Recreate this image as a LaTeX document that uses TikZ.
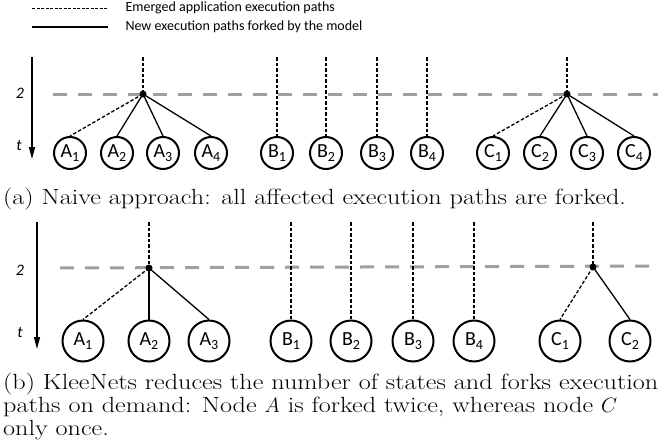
\documentclass[tikz,border=0pt]{standalone}
\usepackage{fontspec}
\newfontfamily\calibri{Carlito}
\newfontfamily\capfont[FakeStretch=1.19]{Latin Modern Roman}
\usetikzlibrary{arrows.meta}

\newcommand{\sub}[1]{\raisebox{-0.4ex}{\fontsize{14}{14}\selectfont #1}}

\tikzset{
	state/.style={draw, circle, line width=2pt, inner sep=0pt, font=\calibri\fontsize{20}{20}\selectfont},
	small/.style={state, minimum size=32pt},
	big/.style={state, minimum size=41pt},
	fork/.style={circle, fill=black, inner sep=0pt, minimum size=7pt},
	emerged/.style={line width=1.3pt, dash pattern=on 3.5pt off 2pt},
	forked/.style={line width=1.3pt},
	timeline/.style={line width=1.5pt, -{Triangle[length=12pt, width=6pt]}},
	level/.style={draw=gray!75, line width=3pt, dash pattern=on 14pt off 11pt},
	axislabel/.style={font=\calibri\itshape\fontsize{16}{16}\selectfont},
	legend/.style={font=\calibri\fontsize{14}{14}\selectfont, anchor=west},
	caption/.style={font=\capfont\fontsize{22}{24}\selectfont, anchor=base west, inner sep=0pt}
}

\begin{document}
\begin{tikzpicture}[x=1pt,y=-1pt]
\useasboundingbox (0,0) rectangle (658,447);

%Legend
\coordinate (ldstart) at (32,8);
\coordinate (ldend) at (108,8);
\draw[line width=0.9pt, dash pattern=on 3pt off 1.5pt] (ldstart) -- (ldend);
\node[legend] (ldtext) at (122,8) {Emerged application execution paths};
\coordinate (lsstart) at (32,27);
\coordinate (lsend) at (108,27);
\draw[line width=1.1pt] (lsstart) -- (lsend);
\node[legend] (lstext) at (122,27) {New execution paths forked by the model};

%Naive approach
\coordinate (ttop) at (32,57);
\coordinate (tbot) at (32,159);
\draw[timeline] (ttop) -- (tbot);
\node[axislabel] (ttwo) at (20,93) {2};
\node[axislabel] (tt) at (19,145) {t};
\coordinate (lvlstart) at (53,94);
\coordinate (lvlend) at (660,94);
\draw[level] (lvlstart) -- (lvlend);

\node[small] (na1) at (70,153) {A\sub{1}};
\node[small] (na2) at (117,153) {A\sub{2}};
\node[small] (na3) at (163,153) {A\sub{3}};
\node[small] (na4) at (211,153) {A\sub{4}};
\node[small] (nb1) at (277,153) {B\sub{1}};
\node[small] (nb2) at (326,153) {B\sub{2}};
\node[small] (nb3) at (377,153) {B\sub{3}};
\node[small] (nb4) at (427,153) {B\sub{4}};
\node[small] (nc1) at (493,153) {C\sub{1}};
\node[small] (nc2) at (540,153) {C\sub{2}};
\node[small] (nc3) at (587,153) {C\sub{3}};
\node[small] (nc4) at (634,153) {C\sub{4}};

\node[fork] (nforka) at (143,94) {};
\node[fork] (nforkc) at (567,94) {};
\coordinate (ntopa) at (143,57);
\coordinate (ntopc) at (567,57);
\draw[emerged] (ntopa) -- (nforka.center);
\draw[emerged] (ntopc) -- (nforkc.center);
\draw[emerged] (nforka.center) -- (na1.north);
\draw[emerged] (nforkc.center) -- (nc1.north);
\foreach \i in {2,3,4}{
	\draw[forked] (nforka.center) -- (na\i.north);
	\draw[forked] (nforkc.center) -- (nc\i.north);
}
\foreach \i in {1,...,4}{
	\coordinate (ntopb\i) at (nb\i |- ntopa);
	\draw[emerged] (ntopb\i) -- (nb\i.north);
}

\node[caption] (capa) at (3,204) {(a) Naive approach: all affected execution paths are forked.};

%KleeNets
\coordinate (ktop) at (37,222);
\coordinate (kbot) at (37,349);
\draw[timeline] (ktop) -- (kbot);
\node[axislabel] (ktwo) at (20,270) {2};
\node[axislabel] (kt) at (20,332) {t};
\coordinate (klvlstart) at (60,268);
\coordinate (klvlend) at (660,266);
\draw[level] (klvlstart) -- (klvlend);

\node[big] (ka1) at (83,341) {A\sub{1}};
\node[big] (ka2) at (149,341) {A\sub{2}};
\node[big] (ka3) at (209,341) {A\sub{3}};
\node[big] (kb1) at (291,341) {B\sub{1}};
\node[big] (kb2) at (351,341) {B\sub{2}};
\node[big] (kb3) at (413,341) {B\sub{3}};
\node[big] (kb4) at (474,341) {B\sub{4}};
\node[big] (kc1) at (560,341) {C\sub{1}};
\node[big] (kc2) at (630,341) {C\sub{2}};

\node[fork] (kforka) at (149,268) {};
\node[fork] (kforkc) at (593,267) {};
\coordinate (ktopa) at (149,222);
\coordinate (ktopc) at (593,222);
\draw[emerged] (ktopa) -- (kforka.center);
\draw[emerged] (ktopc) -- (kforkc.center);
\draw[emerged] (kforka.center) -- (ka1.north);
\draw[forked] (kforka.center) -- (ka2.north);
\draw[forked] (kforka.center) -- (ka3.north);
\draw[emerged] (kforkc.center) -- (kc1.north);
\draw[forked] (kforkc.center) -- (kc2.north);
\foreach \i in {1,...,4}{
	\coordinate (ktopb\i) at (kb\i |- ktopa);
	\draw[emerged] (ktopb\i) -- (kb\i.north);
}

\node[caption] (capb1) at (3,389) {(b) KleeNets reduces the number of states and forks execution};
\node[caption] (capb2) at (3,412) {paths on demand: Node $A$ is forked twice, whereas node $C$};
\node[caption] (capb3) at (3,435) {only once.};

\end{tikzpicture}
\end{document}
